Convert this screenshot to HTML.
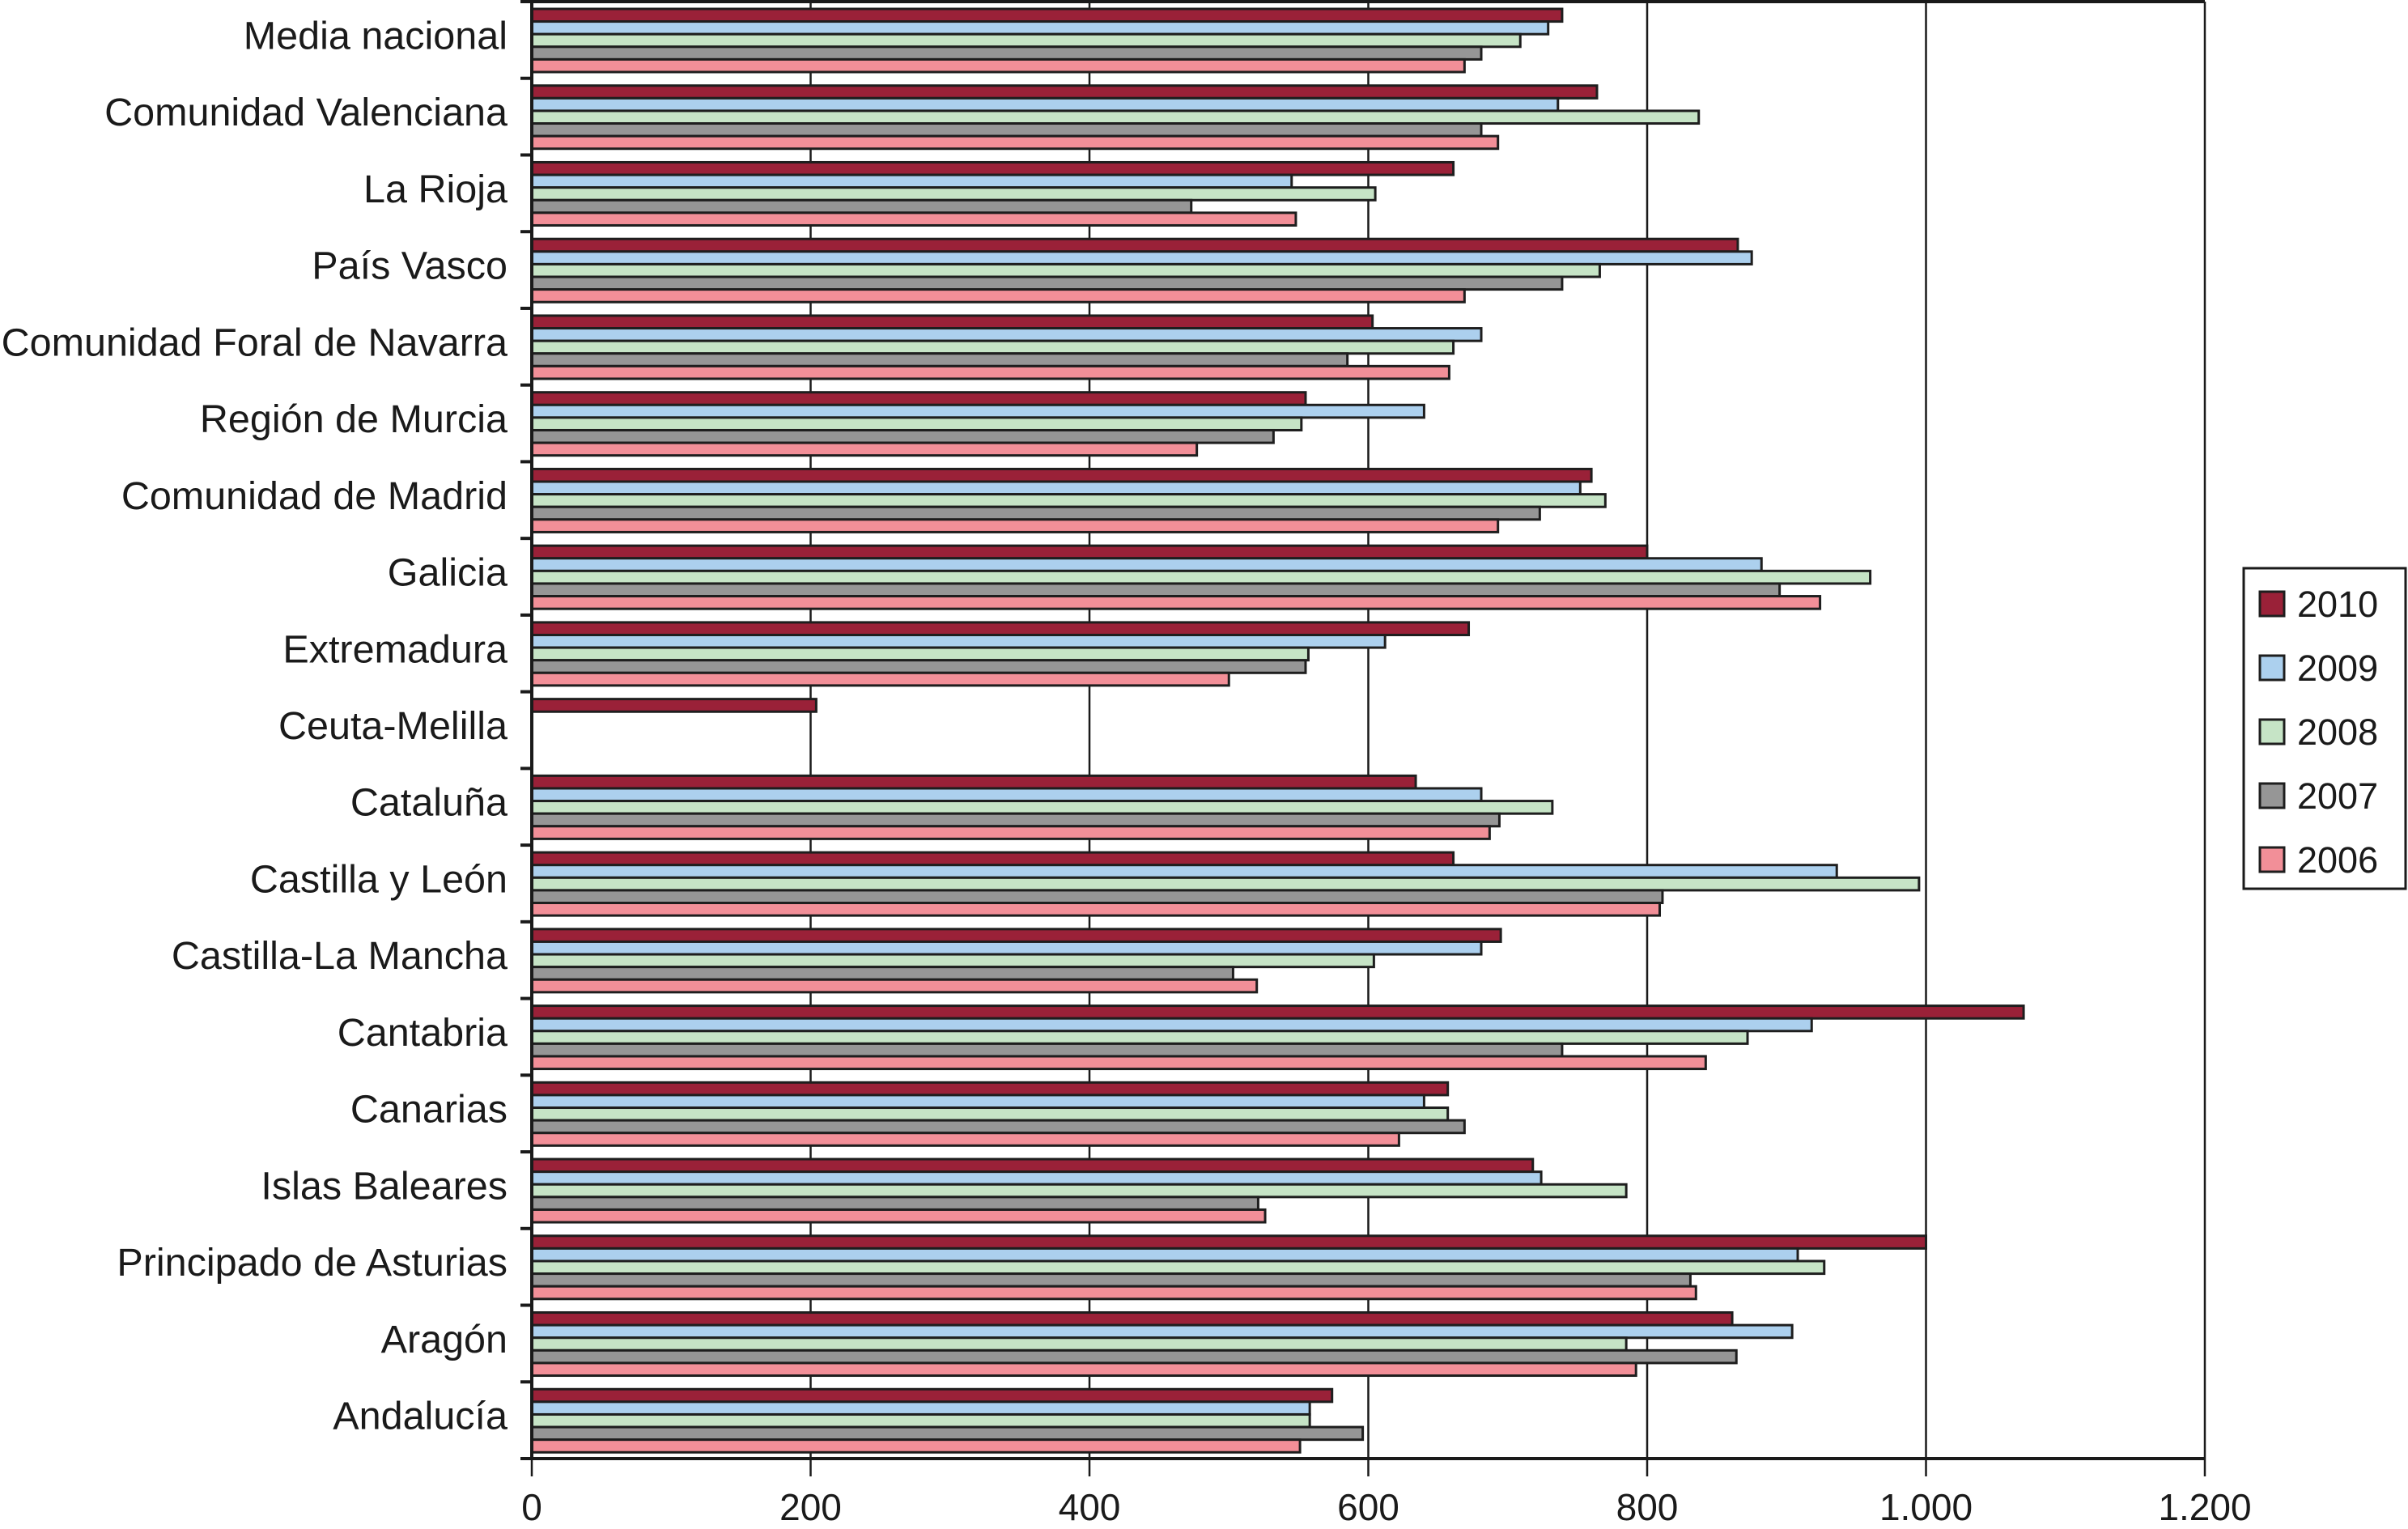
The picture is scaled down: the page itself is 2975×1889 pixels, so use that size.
<!DOCTYPE html>
<html><head><meta charset="utf-8"><style>
html,body{margin:0;padding:0;background:#fff;}
svg{display:block;font-family:"Liberation Sans",sans-serif;}
</style></head><body>
<svg id="chart" width="2975" height="1889" viewBox="0 0 2975 1889"></svg>
<script>
const categories = ["Media nacional","Comunidad Valenciana","La Rioja","País Vasco","Comunidad Foral de Navarra","Región de Murcia","Comunidad de Madrid","Galicia","Extremadura","Ceuta-Melilla","Cataluña","Castilla y León","Castilla-La Mancha","Cantabria","Canarias","Islas Baleares","Principado de Asturias","Aragón","Andalucía"];
const seriesNames = ["2010","2009","2008","2007","2006"];
const v2010 = [739,764,661,865,603,555,760,800,672,204,634,661,695,1070,657,718,1000,861,574];
const v2009 = [729,736,545,875,681,640,752,882,612,0,681,936,681,918,640,724,908,904,558];
const v2008 = [709,837,605,766,661,552,770,960,557,0,732,995,604,872,657,785,927,785,558];
const v2007 = [681,681,473,739,585,532,723,895,555,0,694,811,503,739,669,521,831,864,596];
const v2006 = [669,693,548,669,658,477,693,924,500,0,687,809,520,842,622,526,835,792,551];
const xTicks = [0,200,400,600,800,1000,1200];
const xTickLabels = ["0","200","400","600","800","1.000","1.200"];
const colors = ["#9a2138","#acd0ee","#c6e4c6","#969696","#f28f98"];
const seriesVals = [v2010,v2009,v2008,v2007,v2006];

const svg = document.getElementById('chart');
const NS = "http://www.w3.org/2000/svg";
const X0 = 657, X1 = 2724, YT = 2, YB = 1802;
const band = (YB - YT) / categories.length;
const xs = v => X0 + v / 1200 * (X1 - X0);
const yb = i => YT + i * band;
function mk(tag, attrs, parent){const e=document.createElementNS(NS,tag);for(const k in attrs)e.setAttribute(k,attrs[k]);(parent||svg).appendChild(e);return e;}

xTicks.forEach((t,i)=>{
  if(t===0) return;
  const g = mk('line',{x1:xs(t),x2:xs(t),y1:YT,y2:YB,stroke:'#1a1a1a','stroke-width':2.5});
  
  
});
const tb = mk('line',{x1:X0,x2:X1,y1:YT,y2:YT,stroke:'#1a1a1a','stroke-width':4});



const bh = 15.6, off = 9;
categories.forEach((c,i)=>{
  seriesVals.forEach((arr,s)=>{
    const v = arr[i];
    if(v<=0) return;
    const r = mk('rect',{x:X0,y:yb(i)+off+s*bh,width:xs(v)-X0,height:bh,fill:colors[s],stroke:'#1e1e1e','stroke-width':3});
    
    
  });
  const t = mk('text',{x:627,y:yb(i)+band/2+11,'text-anchor':'end','font-size':48.5,fill:'#1a1a1a'});
  t.textContent = c;
  
  
  const tk = mk('line',{x1:X0-14,x2:X0,y1:yb(i+1),y2:yb(i+1),stroke:'#1a1a1a','stroke-width':4});
  
  
});
const tk0 = mk('line',{x1:X0-14,x2:X0,y1:YT,y2:YT,stroke:'#1a1a1a','stroke-width':4});



const ya = mk('line',{x1:X0,x2:X0,y1:YT,y2:YB,stroke:'#1a1a1a','stroke-width':4});


const xa = mk('line',{x1:X0-14,x2:X1,y1:YB,y2:YB,stroke:'#1a1a1a','stroke-width':4});


xTicks.forEach((t,i)=>{
  const l = mk('line',{x1:xs(t),x2:xs(t),y1:YB,y2:YB+22,stroke:'#1a1a1a','stroke-width':2.5});
  
  
  const tx = mk('text',{x:xs(t),y:1878,'text-anchor':'middle','font-size':46,fill:'#1a1a1a'});
  tx.textContent = xTickLabels[i];
  
  
});

const lg = mk('g',{});


mk('rect',{x:2772,y:702,width:200,height:396,fill:'#fff',stroke:'#1a1a1a','stroke-width':3},lg);
seriesNames.forEach((n,s)=>{
  const y = 731 + s*79;
  const e = mk('g',{},lg);
  
  
  mk('rect',{x:2792,y:y,width:30,height:30,fill:colors[s],stroke:'#1e1e1e','stroke-width':3},e);
  const t = mk('text',{x:2838,y:y+31,'font-size':45,fill:'#1a1a1a'},e);
  t.textContent = n;
});
</script>
</body></html>
